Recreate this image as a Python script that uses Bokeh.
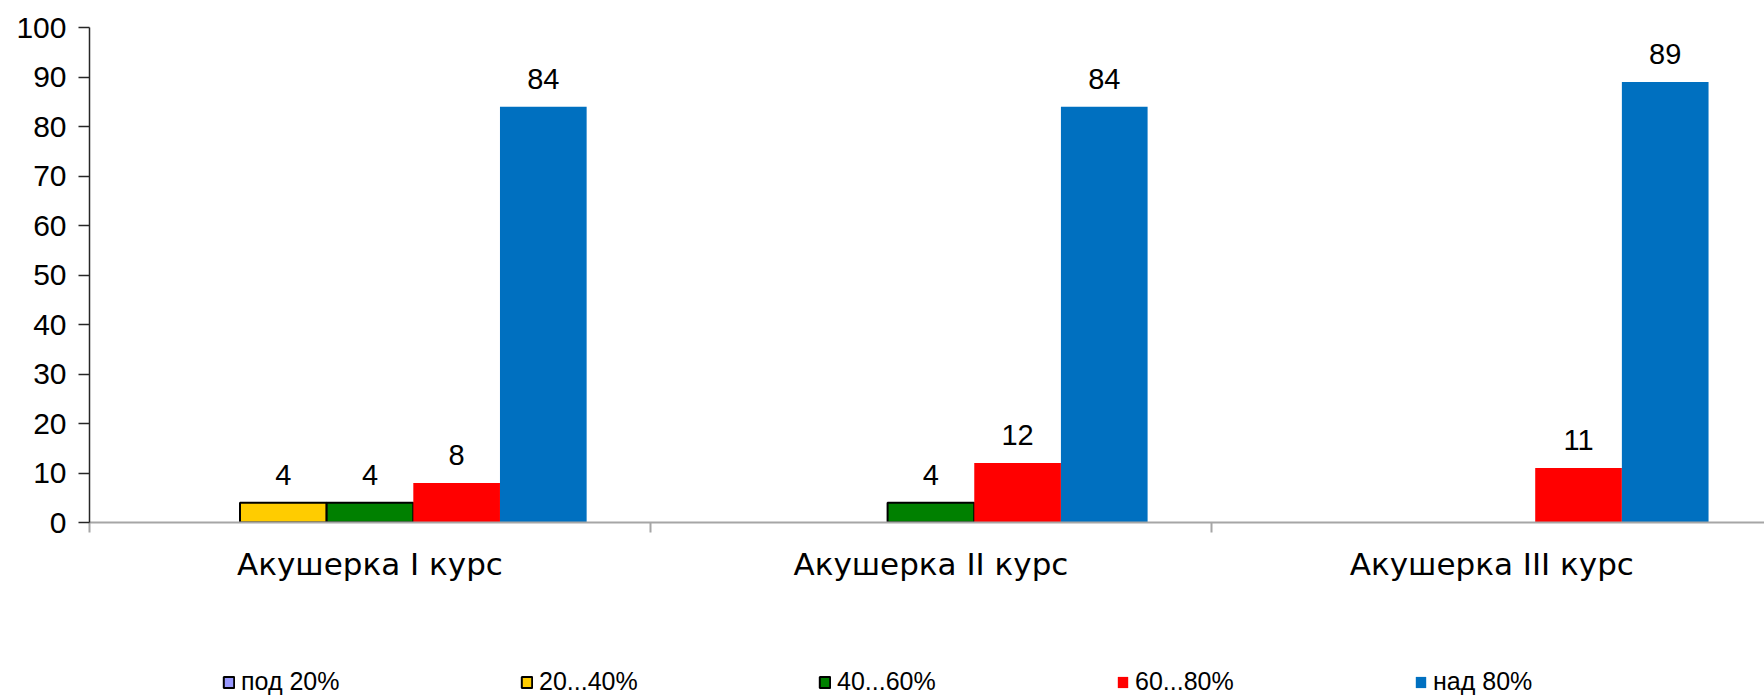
import math
from bokeh.plotting import figure
from bokeh.layouts import column
from bokeh.models import (Range1d, FixedTicker, ColumnDataSource, Legend, LegendItem,
                          LabelSet)
from bokeh.core.properties import value
from bokeh.embed import file_html
from bokeh.resources import INLINE

# ---- data ----
categories = ["Акушерка I курс", "Акушерка II курс", "Акушерка III курс"]
series_names = ["под 20%", "20...40%", "40...60%", "60...80%", "над 80%"]
pod_20 = [0, 0, 0]
s20_40 = [4, 0, 0]
s40_60 = [4, 4, 0]
s60_80 = [8, 12, 11]
nad_80 = [84, 84, 89]
y_ticks = [0, 10, 20, 30, 40, 50, 60, 70, 80, 90, 100]

series_values = [pod_20, s20_40, s40_60, s60_80, nad_80]
fill_colors = ["#9999FF", "#FFCC00", "#008000", "#FF0000", "#0070C0"]
line_colors = ["black", "black", "black", None, None]

bar_w = 0.1545
n_series = len(series_names)

p = figure(width=1764, height=600,
           x_range=Range1d(0, 2.986), y_range=Range1d(0, 100),
           output_backend="svg", toolbar_location=None,
           min_border_left=89, min_border_top=27, min_border_bottom=78,
           min_border_right=0)
p.outline_line_color = None
p.xgrid.grid_line_color = None
p.ygrid.grid_line_color = None

# legend strip underneath (same series, same sources; its view range shows no bars)
pl = figure(width=1764, height=97, x_range=Range1d(-100, -99), y_range=Range1d(1000, 1001),
            x_axis_type=None, y_axis_type=None, output_backend="svg",
            toolbar_location=None, min_border=0)
pl.outline_line_color = None
pl.xgrid.grid_line_color = None
pl.ygrid.grid_line_color = None

items = []
for k, (name, vals) in enumerate(zip(series_names, series_values)):
    xs, tops, labels = [], [], []
    for i, v in enumerate(vals):
        xs.append(i + 0.5 + (k - (n_series - 1) / 2) * bar_w)
        tops.append(v if v > 0 else math.nan)
        labels.append(str(v) if v > 0 else "")
    src = ColumnDataSource(dict(x=xs, top=tops, label=labels))
    style = dict(fill_color=fill_colors[k], line_color=line_colors[k],
                 line_width=2 if line_colors[k] else 0)
    p.vbar(x="x", top="top", bottom=0, width=bar_w, source=src, **style)
    rl = pl.vbar(x="x", top="top", bottom=0, width=bar_w, source=src, **style)
    items.append(LegendItem(label=name, renderers=[rl]))
    lab = LabelSet(x="x", y="top", text="label", source=src, y_offset=18,
                   text_align="center", text_baseline="alphabetic",
                   text_font=value("Liberation Sans"), text_font_size="29px",
                   text_color="black")
    p.add_layout(lab)

# y axis
yax = p.yaxis[0]
yax.ticker = FixedTicker(ticks=y_ticks)
yax.major_tick_out = 11
yax.major_tick_in = 0
yax.minor_tick_out = 0
yax.minor_tick_in = 0
yax.major_label_standoff = 12
yax.major_label_text_font = "Liberation Sans"
yax.major_label_text_font_size = "30px"
yax.major_label_text_color = "black"
yax.axis_line_color = "#262626"
yax.axis_line_width = 1.5
yax.major_tick_line_color = "#262626"
yax.major_tick_line_width = 1.5

# x axis
xax = p.xaxis[0]
xax.ticker = FixedTicker(ticks=[0.5, 1.5, 2.5], minor_ticks=[0, 1, 2, 3])
xax.major_label_overrides = {0.5: categories[0], 1.5: categories[1], 2.5: categories[2]}
xax.major_tick_out = 0
xax.major_tick_in = 0
xax.minor_tick_out = 10
xax.minor_tick_in = 0
xax.minor_tick_line_color = "#A6A6A6"
xax.minor_tick_line_width = 2
xax.axis_line_color = "#A6A6A6"
xax.axis_line_width = 2
xax.major_label_standoff = 13
xax.major_label_text_font = "DejaVu Sans"
xax.major_label_text_font_size = "31px"
xax.major_label_text_color = "black"

legend = Legend(items=items, orientation="horizontal", location=(133, 1),
                glyph_width=13, glyph_height=14, label_standoff=6,
                label_width=199, spacing=80, padding=0, margin=0,
                label_text_font="Liberation Sans", label_text_font_size="25px",
                label_text_color="black", border_line_color=None,
                background_fill_alpha=0)
pl.add_layout(legend, "center")

layout = column(p, pl, spacing=0)
open("out.html", "w").write(file_html(layout, INLINE))
